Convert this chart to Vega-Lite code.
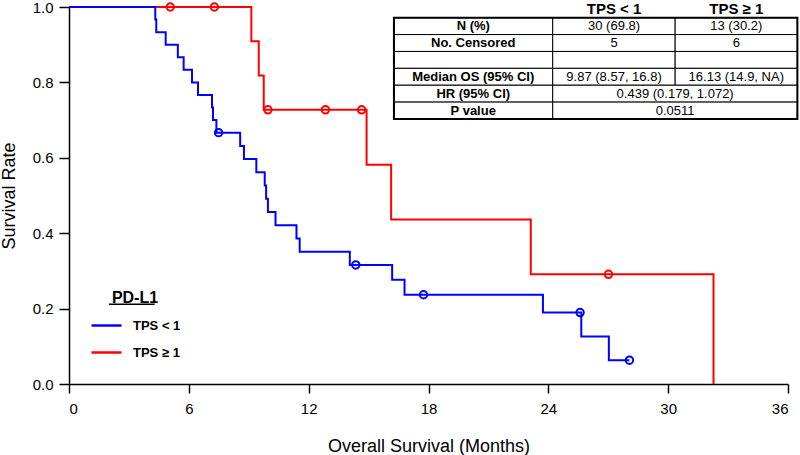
{
  "$schema": "https://vega.github.io/schema/vega-lite/v6.json",
  "width": 719,
  "height": 377,
  "autosize": {"type": "none"},
  "padding": {"left": 69, "top": 7, "right": 12, "bottom": 71},
  "datasets": {
    "km": [
      {"group": "TPS < 1", "time": 0, "surv": 1.0, "censor": 0},
      {"group": "TPS < 1", "time": 4.32, "surv": 0.9667, "censor": 0},
      {"group": "TPS < 1", "time": 4.37, "surv": 0.9333, "censor": 0},
      {"group": "TPS < 1", "time": 4.84, "surv": 0.9, "censor": 0},
      {"group": "TPS < 1", "time": 5.45, "surv": 0.8667, "censor": 0},
      {"group": "TPS < 1", "time": 5.74, "surv": 0.8333, "censor": 0},
      {"group": "TPS < 1", "time": 6.16, "surv": 0.8, "censor": 0},
      {"group": "TPS < 1", "time": 6.46, "surv": 0.7667, "censor": 0},
      {"group": "TPS < 1", "time": 7.16, "surv": 0.7333, "censor": 0},
      {"group": "TPS < 1", "time": 7.21, "surv": 0.7, "censor": 0},
      {"group": "TPS < 1", "time": 7.38, "surv": 0.6667, "censor": 0},
      {"group": "TPS < 1", "time": 7.49, "surv": 0.6667, "censor": 1},
      {"group": "TPS < 1", "time": 8.57, "surv": 0.6316, "censor": 0},
      {"group": "TPS < 1", "time": 8.76, "surv": 0.5965, "censor": 0},
      {"group": "TPS < 1", "time": 9.38, "surv": 0.5614, "censor": 0},
      {"group": "TPS < 1", "time": 9.8, "surv": 0.5263, "censor": 0},
      {"group": "TPS < 1", "time": 9.87, "surv": 0.4912, "censor": 0},
      {"group": "TPS < 1", "time": 9.96, "surv": 0.4561, "censor": 0},
      {"group": "TPS < 1", "time": 10.34, "surv": 0.4211, "censor": 0},
      {"group": "TPS < 1", "time": 11.39, "surv": 0.386, "censor": 0},
      {"group": "TPS < 1", "time": 11.55, "surv": 0.3509, "censor": 0},
      {"group": "TPS < 1", "time": 14.06, "surv": 0.3158, "censor": 0},
      {"group": "TPS < 1", "time": 14.36, "surv": 0.3158, "censor": 1},
      {"group": "TPS < 1", "time": 16.18, "surv": 0.2763, "censor": 0},
      {"group": "TPS < 1", "time": 16.8, "surv": 0.2368, "censor": 0},
      {"group": "TPS < 1", "time": 17.75, "surv": 0.2368, "censor": 1},
      {"group": "TPS < 1", "time": 23.73, "surv": 0.1895, "censor": 0},
      {"group": "TPS < 1", "time": 25.59, "surv": 0.1895, "censor": 1},
      {"group": "TPS < 1", "time": 25.65, "surv": 0.1263, "censor": 0},
      {"group": "TPS < 1", "time": 27.03, "surv": 0.0632, "censor": 0},
      {"group": "TPS < 1", "time": 28.06, "surv": 0.0632, "censor": 1},
      {"group": "TPS ≥ 1", "time": 0, "surv": 1.0, "censor": 0},
      {"group": "TPS ≥ 1", "time": 5.07, "surv": 1.0, "censor": 1},
      {"group": "TPS ≥ 1", "time": 7.28, "surv": 1.0, "censor": 1},
      {"group": "TPS ≥ 1", "time": 9.13, "surv": 0.9091, "censor": 0},
      {"group": "TPS ≥ 1", "time": 9.5, "surv": 0.8182, "censor": 0},
      {"group": "TPS ≥ 1", "time": 9.75, "surv": 0.7273, "censor": 0},
      {"group": "TPS ≥ 1", "time": 9.96, "surv": 0.7273, "censor": 1},
      {"group": "TPS ≥ 1", "time": 12.84, "surv": 0.7273, "censor": 1},
      {"group": "TPS ≥ 1", "time": 14.65, "surv": 0.7273, "censor": 1},
      {"group": "TPS ≥ 1", "time": 14.9, "surv": 0.5818, "censor": 0},
      {"group": "TPS ≥ 1", "time": 16.13, "surv": 0.4364, "censor": 0},
      {"group": "TPS ≥ 1", "time": 23.12, "surv": 0.2909, "censor": 0},
      {"group": "TPS ≥ 1", "time": 27.01, "surv": 0.2909, "censor": 1},
      {"group": "TPS ≥ 1", "time": 32.27, "surv": 0.0, "censor": 0}
    ],
    "table": [
      {"key": "r1", "label": "N (%)", "a": "30 (69.8)", "b": "13 (30.2)", "span": ""},
      {"key": "r2", "label": "No. Censored", "a": "5", "b": "6", "span": ""},
      {"key": "r3", "label": "", "a": "", "b": "", "span": ""},
      {"key": "r4", "label": "Median OS (95% CI)", "a": "9.87 (8.57, 16.8)", "b": "16.13 (14.9, NA)", "span": ""},
      {"key": "r5", "label": "HR (95% CI)", "a": "", "b": "", "span": "0.439 (0.179, 1.072)"},
      {"key": "r6", "label": "P value", "a": "", "b": "", "span": "0.0511"}
    ],
    "header": [
      {"key": "r0", "a": "TPS < 1", "b": "TPS ≥ 1"}
    ]
  },
  "layer": [
    {
      "data": {"name": "km"},
      "layer": [
        {
          "transform": [{"filter": "datum.group == 'TPS ≥ 1'"}],
          "mark": {"type": "line", "interpolate": "step-after", "strokeWidth": 2},
          "encoding": {
            "x": {"field": "time", "type": "quantitative", "scale": {"domain": [0, 36], "nice": false}},
            "y": {"field": "surv", "type": "quantitative", "scale": {"domain": [0, 1], "nice": false}},
            "color": {
              "field": "group", "type": "nominal",
              "scale": {"domain": ["TPS < 1", "TPS ≥ 1"], "range": ["#0000ff", "#ff0000"]},
              "legend": {
                "orient": "none", "legendX": 21, "legendY": 283, "title": "PD-L1",
                "symbolType": "stroke", "symbolSize": 900, "symbolStrokeWidth": 2.5,
                "labelFontSize": 13, "labelFontWeight": "bold", "labelOffset": 10,
                "titleFontSize": 16, "titleFontWeight": "bold", "titleAnchor": "middle",
                "titlePadding": 3, "rowPadding": 3, "padding": 0
              }
            }
          }
        },
        {
          "transform": [{"filter": "datum.group == 'TPS < 1'"}],
          "mark": {"type": "line", "interpolate": "step-after", "strokeWidth": 2},
          "encoding": {
            "x": {"field": "time", "type": "quantitative", "scale": {"domain": [0, 36], "nice": false}},
            "y": {"field": "surv", "type": "quantitative", "scale": {"domain": [0, 1], "nice": false}},
            "color": {"field": "group", "type": "nominal"}
          }
        },
        {
          "transform": [{"filter": "datum.censor == 1"}],
          "mark": {"type": "point", "shape": "circle", "filled": false, "size": 55, "strokeWidth": 2, "opacity": 1},
          "encoding": {
            "x": {"field": "time", "type": "quantitative", "scale": {"domain": [0, 36], "nice": false}},
            "y": {"field": "surv", "type": "quantitative", "scale": {"domain": [0, 1], "nice": false},
              "axis": {"title": "Survival Rate", "values": [0, 0.2, 0.4, 0.6, 0.8, 1.0], "format": ".1f", "tickSize": 10, "labelPadding": 6, "titlePadding": 14}},
            "color": {"field": "group", "type": "nominal"}
          }
        },
        {
          "data": {"values": [{}]},
          "mark": {"type": "rule", "strokeWidth": 1.5, "color": "black"},
          "encoding": {
            "x": {"datum": 2.0, "type": "quantitative", "scale": {"domain": [0, 36], "nice": false},
              "axis": {"title": "Overall Survival (Months)", "values": [0, 6, 12, 18, 24, 30, 36], "tickSize": 9, "labelPadding": 8, "titlePadding": 21}},
            "x2": {"datum": 4.29},
            "y": {"datum": 0.2116, "type": "quantitative"}
          }
        }
      ]
    },
    {
      "layer": [
        {
          "data": {"name": "table"},
          "mark": {"type": "rect", "fill": "white", "stroke": "black", "strokeWidth": 1},
          "encoding": {
            "x": {"datum": 16.27, "type": "quantitative", "scale": {"domain": [0, 36], "nice": false}},
            "x2": {"datum": 24.22},
            "y": {"field": "key", "type": "ordinal", "axis": null,
              "scale": {"domain": ["r0", "r1", "r2", "r3", "r4", "r5", "r6"], "range": [-6.2, 112], "paddingInner": 0, "paddingOuter": 0}}
          }
        },
        {
          "data": {"name": "table"},
          "transform": [{"filter": "datum.span == ''"}],
          "mark": {"type": "rect", "fill": "white", "stroke": "black", "strokeWidth": 1},
          "encoding": {
            "x": {"datum": 24.22, "type": "quantitative"},
            "x2": {"datum": 30.35},
            "y": {"field": "key", "type": "ordinal"}
          }
        },
        {
          "data": {"name": "table"},
          "transform": [{"filter": "datum.span == ''"}],
          "mark": {"type": "rect", "fill": "white", "stroke": "black", "strokeWidth": 1},
          "encoding": {
            "x": {"datum": 30.35, "type": "quantitative"},
            "x2": {"datum": 36.47},
            "y": {"field": "key", "type": "ordinal"}
          }
        },
        {
          "data": {"name": "table"},
          "transform": [{"filter": "datum.span != ''"}],
          "mark": {"type": "rect", "fill": "white", "stroke": "black", "strokeWidth": 1},
          "encoding": {
            "x": {"datum": 24.22, "type": "quantitative"},
            "x2": {"datum": 36.47},
            "y": {"field": "key", "type": "ordinal"}
          }
        },
        {
          "data": {"values": [{}]},
          "mark": {"type": "rect", "fill": null, "stroke": "black", "strokeWidth": 2},
          "encoding": {
            "x": {"datum": 16.27, "type": "quantitative"},
            "x2": {"datum": 36.47},
            "y": {"datum": "r1", "type": "ordinal", "bandPosition": 0},
            "y2": {"datum": "r6", "bandPosition": 1}
          }
        },
        {
          "data": {"name": "table"},
          "mark": {"type": "text", "fontSize": 13, "fontWeight": "bold", "color": "black"},
          "encoding": {
            "x": {"datum": 20.24, "type": "quantitative"},
            "y": {"field": "key", "type": "ordinal"},
            "text": {"field": "label"}
          }
        },
        {
          "data": {"name": "table"},
          "mark": {"type": "text", "fontSize": 13, "color": "black"},
          "encoding": {
            "x": {"datum": 27.29, "type": "quantitative"},
            "y": {"field": "key", "type": "ordinal"},
            "text": {"field": "a"}
          }
        },
        {
          "data": {"name": "table"},
          "mark": {"type": "text", "fontSize": 13, "color": "black"},
          "encoding": {
            "x": {"datum": 33.41, "type": "quantitative"},
            "y": {"field": "key", "type": "ordinal"},
            "text": {"field": "b"}
          }
        },
        {
          "data": {"name": "table"},
          "mark": {"type": "text", "fontSize": 13, "color": "black"},
          "encoding": {
            "x": {"datum": 30.35, "type": "quantitative"},
            "y": {"field": "key", "type": "ordinal"},
            "text": {"field": "span"}
          }
        },
        {
          "data": {"name": "header"},
          "mark": {"type": "text", "fontSize": 15, "fontWeight": "bold", "color": "black"},
          "encoding": {
            "x": {"datum": 27.29, "type": "quantitative"},
            "y": {"field": "key", "type": "ordinal"},
            "text": {"field": "a"}
          }
        },
        {
          "data": {"name": "header"},
          "mark": {"type": "text", "fontSize": 15, "fontWeight": "bold", "color": "black"},
          "encoding": {
            "x": {"datum": 33.41, "type": "quantitative"},
            "y": {"field": "key", "type": "ordinal"},
            "text": {"field": "b"}
          }
        }
      ]
    }
  ],
  "resolve": {"scale": {"y": "independent"}},
  "config": {
    "view": {"stroke": null},
    "font": "Liberation Sans",
    "axis": {
      "grid": false,
      "domainColor": "#000000",
      "tickColor": "#000000",
      "labelColor": "#000000",
      "titleColor": "#000000",
      "labelFontSize": 15,
      "titleFontSize": 18,
      "titleFontWeight": "normal",
      "domainWidth": 1.5,
      "tickWidth": 1.5
    }
  }
}
